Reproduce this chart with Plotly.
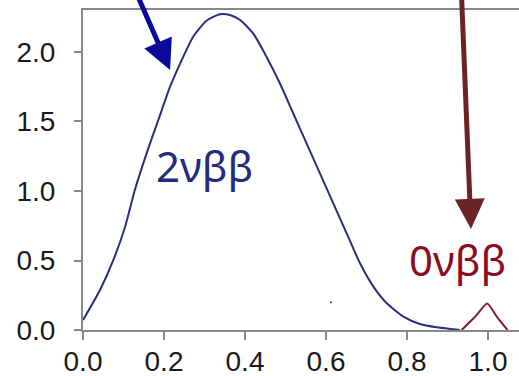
import plotly.graph_objects as go

# 2νββ continuous spectrum
x2nu = [0.0, 0.042, 0.075, 0.104, 0.128, 0.157, 0.186, 0.215, 0.240, 0.272, 0.305, 0.338, 0.363, 0.388,
        0.42, 0.453, 0.486, 0.519, 0.552, 0.585, 0.618, 0.651, 0.684, 0.717, 0.75, 0.791, 0.832, 0.873, 0.914, 0.93]
y2nu = [0.072, 0.288, 0.504, 0.743, 1.007, 1.271, 1.511, 1.75, 1.918, 2.11, 2.225, 2.272, 2.266, 2.23,
        2.134, 1.966, 1.775, 1.559, 1.343, 1.127, 0.911, 0.695, 0.48, 0.312, 0.192, 0.096, 0.043, 0.019, 0.005, 0.0]

# 0νββ peak
x0nu = [0.935, 0.968, 0.998, 1.022, 1.048]
y0nu = [0.0, 0.095, 0.19, 0.095, 0.0]

# stray dot
xdot = [0.612]
ydot = [0.199]

xticks = [0.0, 0.2, 0.4, 0.6, 0.8, 1.0]
yticks = [0.0, 0.5, 1.0, 1.5, 2.0]

NAVY = "#27307f"
DARKRED = "#8b1a2b"

fig = go.Figure()
fig.add_trace(go.Scatter(x=x2nu, y=y2nu, mode="lines", line=dict(color=NAVY, width=2, shape="spline", smoothing=0.6), hoverinfo="skip"))
fig.add_trace(go.Scatter(x=x0nu, y=y0nu, mode="lines", line=dict(color=DARKRED, width=2, shape="spline", smoothing=0.5), hoverinfo="skip"))
fig.add_trace(go.Scatter(x=xdot, y=ydot, mode="markers", marker=dict(color=NAVY, size=2), hoverinfo="skip"))

fig.add_annotation(x=0.301, y=1.18, xref="x", yref="y", text="2νββ", showarrow=False,
                   font=dict(family="Noto Sans", size=42, color="#232b7c"))
fig.add_annotation(x=0.925, y=0.51, xref="x", yref="y", text="0νββ", showarrow=False,
                   font=dict(family="Noto Sans", size=42, color="#8b0d22"))

# arrows
fig.add_annotation(x=0.215, y=1.87, ax=0.128, ay=2.45, xref="x", yref="y", axref="x", ayref="y",
                   text="", showarrow=True, arrowhead=2, arrowsize=1.2, arrowwidth=5, arrowcolor="#0a0a9a")
fig.add_annotation(x=0.958, y=0.727, ax=0.934, ay=2.45, xref="x", yref="y", axref="x", ayref="y",
                   text="", showarrow=True, arrowhead=2, arrowsize=1.2, arrowwidth=5, arrowcolor="#6b2426")

axis_font = dict(family="Liberation Sans", size=28, color="#1a1a1a")
fig.update_layout(
    width=519, height=376,
    margin=dict(l=83, r=0, t=10, b=46),
    plot_bgcolor="white", paper_bgcolor="white",
    showlegend=False,
    xaxis=dict(range=[0, 1.0765], tickvals=xticks, ticktext=[f"{v:.1f}" for v in xticks],
               showgrid=False, zeroline=False, showline=True, linecolor="#888", linewidth=2,
               mirror=True, ticks="outside", ticklen=8, tickcolor="#888", tickwidth=2,
               tickfont=axis_font, ticklabelstandoff=-3, automargin=False),
    yaxis=dict(range=[0, 2.302], tickvals=yticks, ticktext=[f"{v:.1f}" for v in yticks],
               showgrid=False, zeroline=False, showline=True, linecolor="#888", linewidth=2,
               ticks="outside", ticklen=7, tickcolor="#888", tickwidth=2,
               tickfont=axis_font, ticklabelstandoff=13, automargin=False),
)

fig.write_html("out.html")
